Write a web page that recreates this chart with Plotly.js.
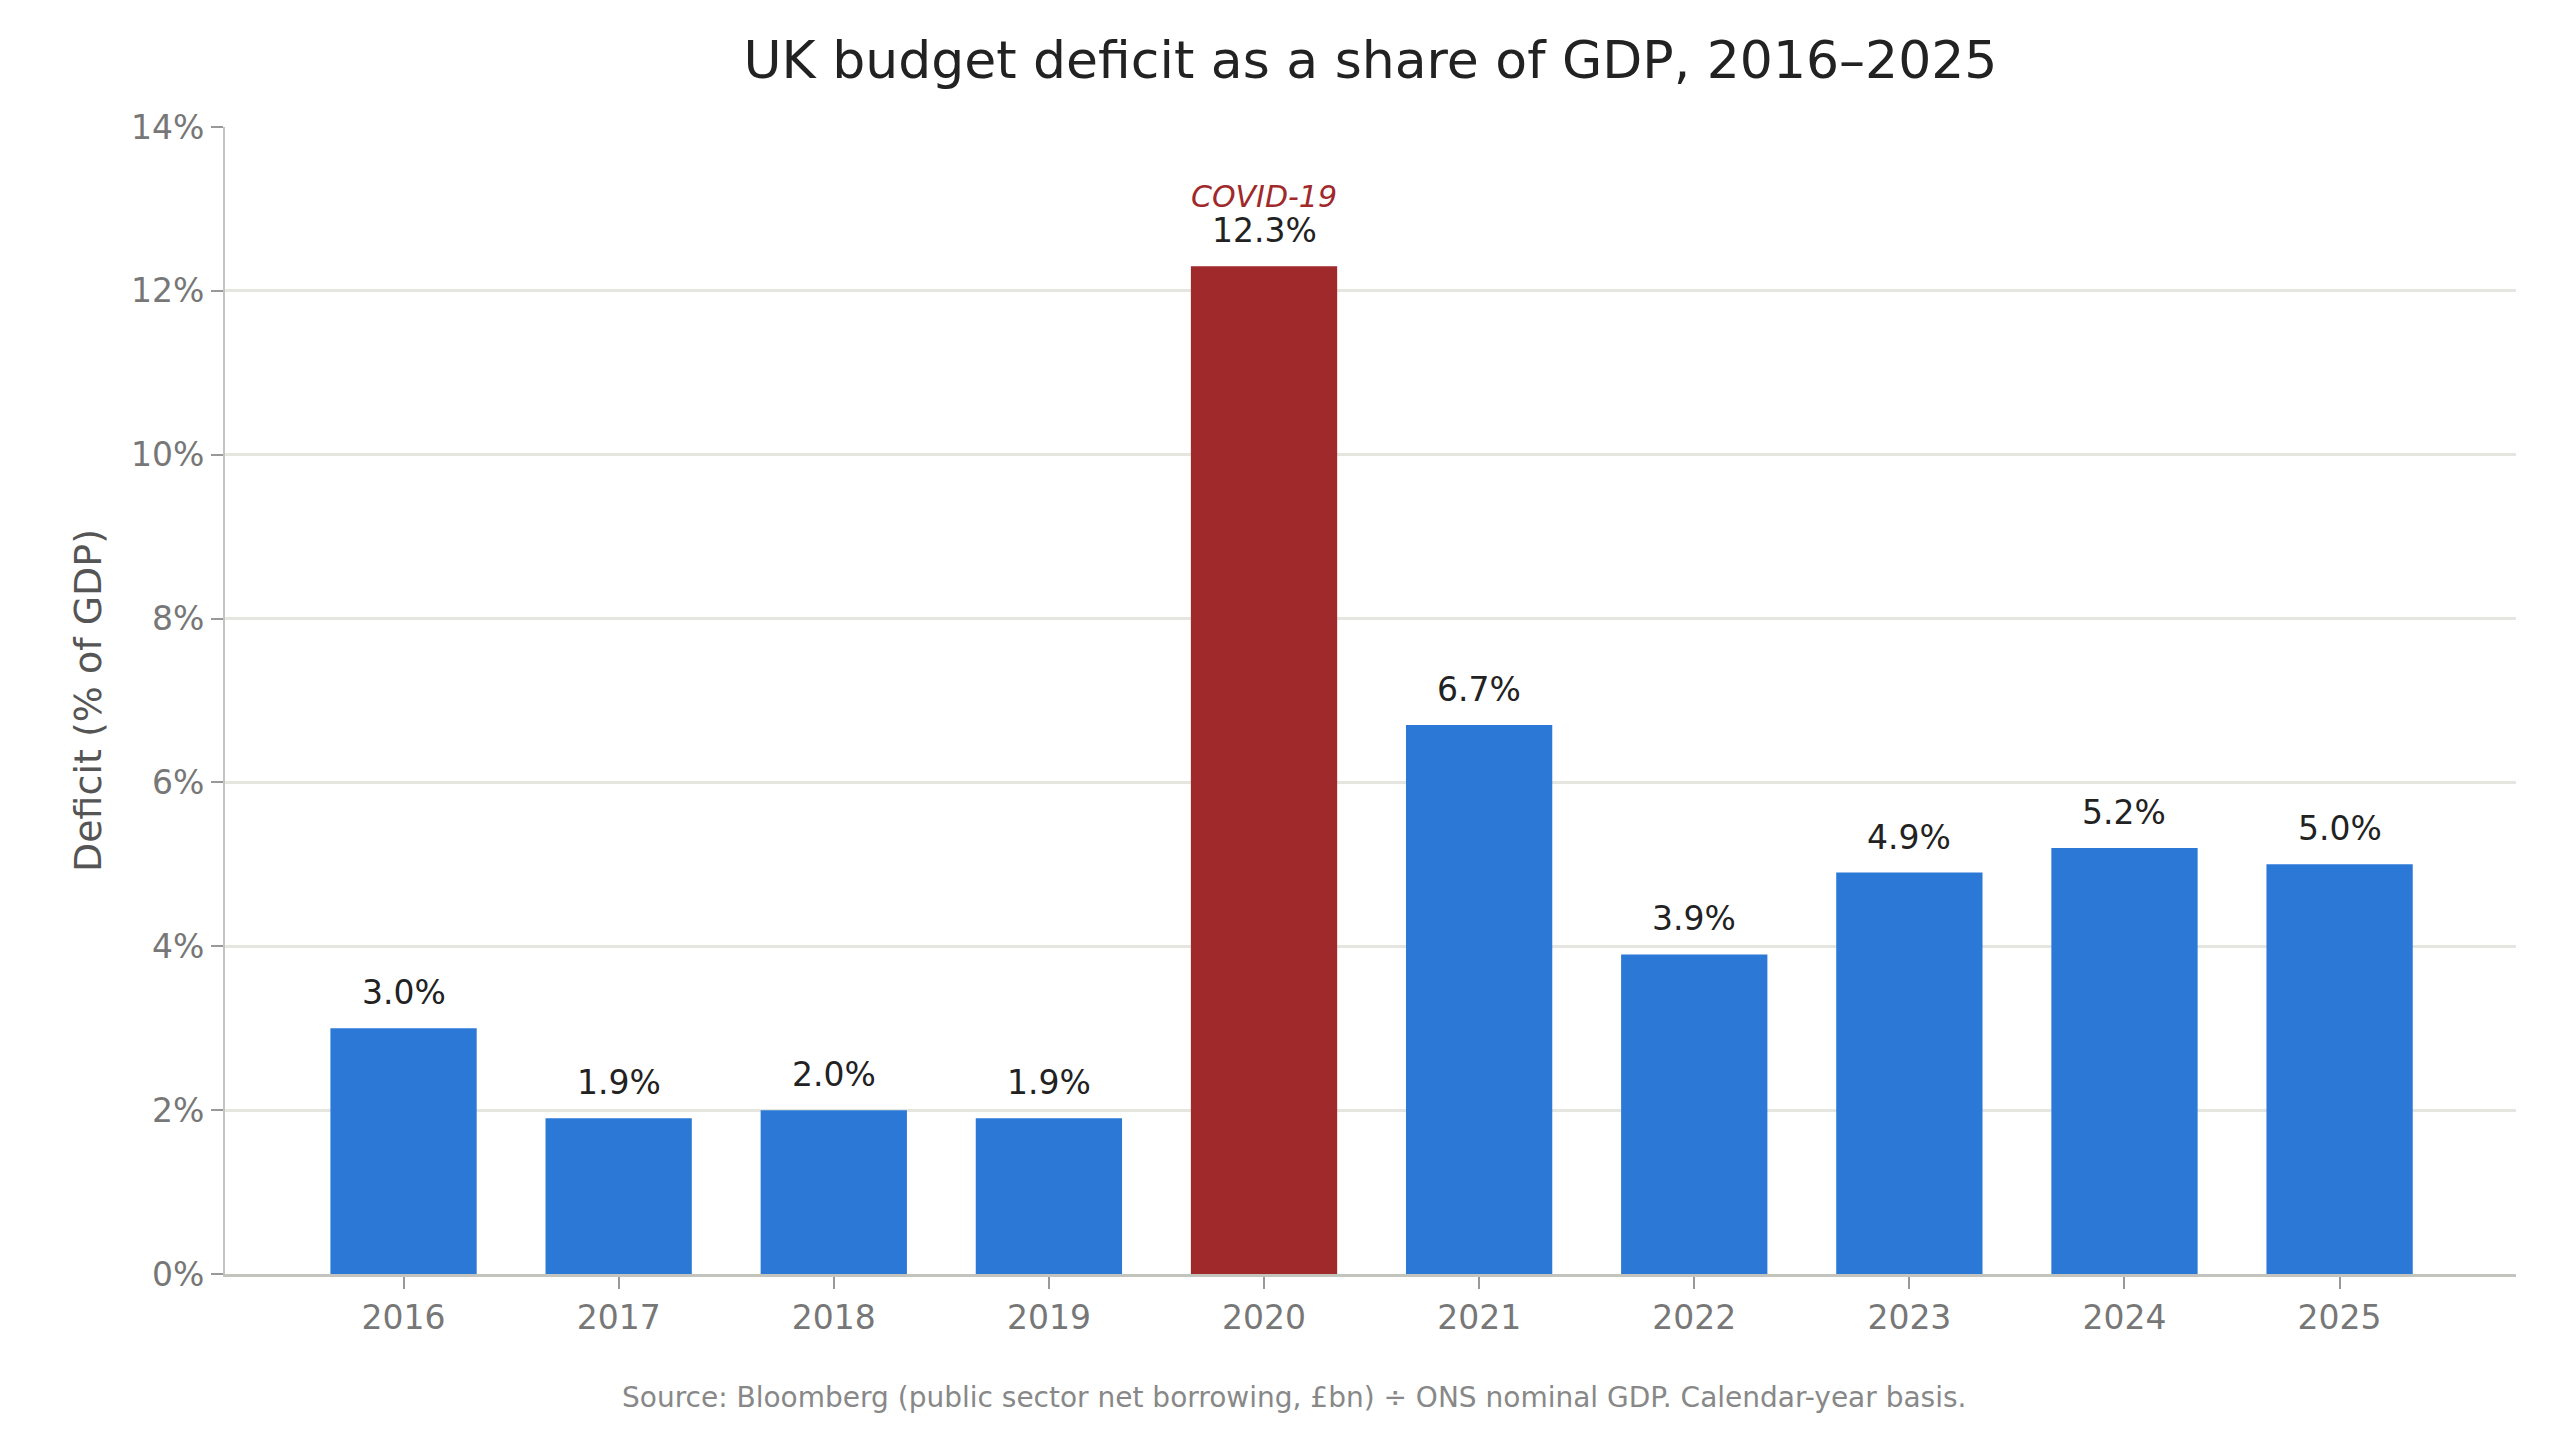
<!DOCTYPE html>
<html>
<head>
<meta charset="utf-8">
<script src="https://cdn.plot.ly/plotly-3.0.1.min.js"></script>
<style>
  html, body { margin: 0; padding: 0; background: #fff; }
  #chart { width: 2560px; height: 1443px; }
</style>
</head>
<body>
<div id="chart"></div>
<script>
// Data
var years = ["2016", "2017", "2018", "2019", "2020", "2021", "2022", "2023", "2024", "2025"];
var deficit = [3.0, 1.9, 2.0, 1.9, 12.3, 6.7, 3.9, 4.9, 5.2, 5.0];
var highlightYear = "2020";
var highlightNote = "COVID-19";
var yTickVals = [0, 2, 4, 6, 8, 10, 12, 14];

var blue = "#2b78d6";
var red = "#a0292b";

var barColors = years.map(function (y) { return y === highlightYear ? red : blue; });

var data = [{
  type: "bar",
  x: years,
  y: deficit,
  width: 0.68,
  marker: { color: barColors, line: { width: 0 } },
  hoverinfo: "x+y"
}];

// value labels above each bar (category index, since "2016" would be read as an index)
var annotations = years.map(function (y, i) {
  return {
    x: i, y: deficit[i],
    xref: "x", yref: "y",
    text: deficit[i].toFixed(1) + "%",
    showarrow: false,
    yanchor: "bottom",
    yshift: 14,
    font: { family: "DejaVu Sans", size: 33, color: "#222" }
  };
});

var hiIdx = years.indexOf(highlightYear);
annotations.push({
  x: hiIdx, y: deficit[hiIdx],
  xref: "x", yref: "y",
  text: "<i>" + highlightNote + "</i>",
  showarrow: false,
  yanchor: "bottom",
  yshift: 50,
  font: { family: "DejaVu Sans", size: 30, color: red }
});

// source note
annotations.push({
  x: 0.4666, y: 0, xref: "paper", yref: "paper",
  xanchor: "center", yanchor: "middle",
  yshift: -123,
  text: "Source: Bloomberg (public sector net borrowing, £bn) ÷ ONS nominal GDP. Calendar-year basis.",
  showarrow: false,
  font: { family: "DejaVu Sans", size: 28, color: "#888" }
});

var layout = {
  width: 2560,
  height: 1443,
  margin: { l: 225, r: 44, t: 127, b: 169 },
  paper_bgcolor: "#fff",
  plot_bgcolor: "#fff",
  font: { family: "DejaVu Sans", color: "#777" },
  showlegend: false,
  title: {
    text: "UK budget deficit as a share of GDP, 2016–2025",
    font: { family: "DejaVu Sans", size: 52, color: "#222" },
    x: 0.5, xref: "paper", xanchor: "center",
    y: 1 - 60 / 1443, yref: "container", yanchor: "middle"
  },
  xaxis: {
    type: "category",
    range: [-0.83, 9.82],
    showline: true, linecolor: "#c4c4be", linewidth: 3,
    ticks: "outside", ticklen: 12, tickwidth: 2, tickcolor: "#999",
    tickfont: { family: "DejaVu Sans", size: 33, color: "#777" },
    showgrid: false,
    zeroline: false
  },
  yaxis: {
    range: [0, 14],
    tickvals: yTickVals,
    ticktext: yTickVals.map(function (v) { return v + "%"; }),
    showline: true, linecolor: "#c4c4be", linewidth: 2,
    ticks: "outside", ticklen: 12, tickwidth: 2, tickcolor: "#999",
    tickfont: { family: "DejaVu Sans", size: 33, color: "#777" },
    showgrid: true, gridcolor: "#e6e6e1", gridwidth: 3,
    zeroline: false,
    title: {
      text: "Deficit (% of GDP)",
      font: { family: "DejaVu Sans", size: 38, color: "#555" },
      standoff: 18
    }
  },
  annotations: annotations
};

Plotly.newPlot("chart", data, layout, { displayModeBar: false, staticPlot: true });
</script>
</body>
</html>
